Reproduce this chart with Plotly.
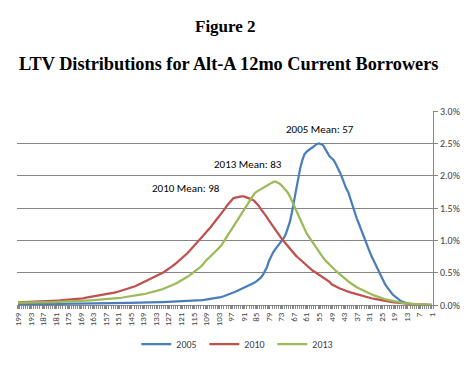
import plotly.graph_objects as go

# LTV categories, left to right on the chart (199 down to 1)
ltv = list(range(199, 0, -1))

# Share of borrowers (%) by LTV, same order as ltv
s2010 = [
    0.040, 0.041, 0.042, 0.043, 0.044, 0.045, 0.046, 0.047, 0.048, 0.050,
    0.051, 0.053, 0.055, 0.057, 0.059, 0.061, 0.063, 0.065, 0.067, 0.069,
    0.071, 0.073, 0.076, 0.079, 0.080, 0.083, 0.086, 0.089, 0.092, 0.095,
    0.100, 0.104, 0.109, 0.114, 0.120, 0.125, 0.131, 0.138, 0.145, 0.155,
    0.158, 0.162, 0.167, 0.172, 0.178, 0.184, 0.190, 0.198, 0.207, 0.217,
    0.226, 0.236, 0.246, 0.256, 0.266, 0.277, 0.290, 0.305, 0.320, 0.336,
    0.352, 0.368, 0.385, 0.400, 0.414, 0.428, 0.442, 0.458, 0.476, 0.495,
    0.515, 0.535, 0.556, 0.580, 0.605, 0.630, 0.656, 0.684, 0.712, 0.740,
    0.770, 0.800, 0.835, 0.870, 0.905, 0.940, 0.975, 1.010, 1.045, 1.080,
    1.12, 1.16, 1.20, 1.24, 1.28, 1.32, 1.36, 1.40, 1.44, 1.49,
    1.54, 1.58, 1.62, 1.65, 1.66, 1.67, 1.67, 1.68, 1.68, 1.67,
    1.66, 1.65, 1.63, 1.61, 1.58, 1.54, 1.49, 1.45, 1.41, 1.36,
    1.31, 1.26, 1.21, 1.16, 1.12, 1.08, 1.03, 0.99, 0.95, 0.92,
    0.88, 0.84, 0.80, 0.76, 0.73, 0.70, 0.67, 0.64, 0.61, 0.58,
    0.56, 0.53, 0.51, 0.49, 0.465, 0.44, 0.42, 0.40, 0.38, 0.36,
    0.32, 0.30, 0.285, 0.27, 0.255, 0.24, 0.228, 0.217, 0.206, 0.195,
    0.185, 0.175, 0.165, 0.155, 0.145, 0.136, 0.128, 0.120, 0.112, 0.104,
    0.097, 0.090, 0.083, 0.077, 0.071, 0.065, 0.059, 0.054, 0.049, 0.044,
    0.040, 0.036, 0.032, 0.028, 0.025, 0.022, 0.019, 0.016, 0.014, 0.012,
    0.010, 0.008, 0.007, 0.005, 0.004, 0.003, 0.002, 0.002, 0.001,
]

s2013 = [
    0.035, 0.035, 0.036, 0.036, 0.037, 0.037, 0.038, 0.038, 0.039, 0.039,
    0.040, 0.040, 0.041, 0.041, 0.042, 0.043, 0.044, 0.045, 0.046, 0.047,
    0.048, 0.049, 0.050, 0.051, 0.052, 0.053, 0.055, 0.057, 0.059, 0.061,
    0.063, 0.065, 0.067, 0.069, 0.071, 0.073, 0.075, 0.077, 0.079, 0.081,
    0.083, 0.086, 0.089, 0.092, 0.095, 0.098, 0.101, 0.104, 0.108, 0.112,
    0.116, 0.120, 0.124, 0.128, 0.133, 0.138, 0.143, 0.148, 0.154, 0.160,
    0.167, 0.174, 0.181, 0.189, 0.197, 0.205, 0.214, 0.223, 0.233, 0.244,
    0.256, 0.268, 0.281, 0.295, 0.310, 0.325, 0.341, 0.358, 0.376, 0.395,
    0.415, 0.436, 0.458, 0.481, 0.505, 0.530, 0.556, 0.583, 0.611, 0.660,
    0.69, 0.72, 0.75, 0.78, 0.81, 0.84, 0.87, 0.91, 0.96, 1.01,
    1.06, 1.11, 1.16, 1.21, 1.26, 1.31, 1.36, 1.41, 1.46, 1.51,
    1.57, 1.63, 1.68, 1.72, 1.75, 1.77, 1.79, 1.81, 1.83, 1.84,
    1.86, 1.88, 1.90, 1.91, 1.90, 1.88, 1.85, 1.81, 1.77, 1.74,
    1.68, 1.61, 1.54, 1.46, 1.38, 1.31, 1.24, 1.17, 1.11, 1.06,
    1.01, 0.96, 0.91, 0.86, 0.81, 0.77, 0.73, 0.69, 0.655, 0.62,
    0.59, 0.56, 0.53, 0.50, 0.47, 0.44, 0.415, 0.39, 0.365, 0.34,
    0.315, 0.295, 0.275, 0.258, 0.241, 0.225, 0.210, 0.195, 0.180, 0.166,
    0.152, 0.139, 0.127, 0.116, 0.105, 0.095, 0.086, 0.078, 0.070, 0.063,
    0.056, 0.050, 0.044, 0.038, 0.033, 0.028, 0.024, 0.020, 0.017, 0.014,
    0.011, 0.009, 0.007, 0.005, 0.004, 0.003, 0.002, 0.001, 0.001,
]

s2005 = [
    0.010, 0.010, 0.010, 0.011, 0.011, 0.011, 0.012, 0.012, 0.012, 0.013,
    0.013, 0.013, 0.014, 0.014, 0.014, 0.015, 0.015, 0.016, 0.016, 0.017,
    0.017, 0.018, 0.018, 0.019, 0.019, 0.020, 0.020, 0.021, 0.021, 0.022,
    0.022, 0.023, 0.023, 0.024, 0.024, 0.025, 0.025, 0.026, 0.026, 0.027,
    0.027, 0.028, 0.028, 0.029, 0.029, 0.030, 0.030, 0.031, 0.031, 0.032,
    0.032, 0.033, 0.033, 0.034, 0.034, 0.035, 0.035, 0.036, 0.036, 0.037,
    0.037, 0.038, 0.039, 0.040, 0.041, 0.042, 0.043, 0.044, 0.045, 0.046,
    0.047, 0.048, 0.049, 0.050, 0.051, 0.052, 0.053, 0.054, 0.055, 0.056,
    0.058, 0.060, 0.062, 0.064, 0.066, 0.068, 0.071, 0.074, 0.077, 0.080,
    0.084, 0.088, 0.092, 0.097, 0.102, 0.108, 0.115, 0.123, 0.132, 0.142,
    0.153, 0.165, 0.178, 0.192, 0.206, 0.220, 0.235, 0.250, 0.265, 0.280,
    0.300, 0.315, 0.330, 0.345, 0.365, 0.390, 0.420, 0.460, 0.510, 0.580,
    0.68, 0.75, 0.81, 0.86, 0.90, 0.94, 0.98, 1.03, 1.09, 1.17,
    1.28, 1.43, 1.61, 1.80, 1.97, 2.12, 2.24, 2.33, 2.37, 2.40,
    2.42, 2.44, 2.47, 2.49, 2.50, 2.49, 2.47, 2.41, 2.35, 2.30,
    2.27, 2.24, 2.18, 2.12, 2.05, 1.97, 1.88, 1.80, 1.74, 1.64,
    1.52, 1.43, 1.34, 1.26, 1.17, 1.08, 1.00, 0.92, 0.84, 0.76,
    0.69, 0.62, 0.55, 0.48, 0.42, 0.36, 0.30, 0.25, 0.20, 0.17,
    0.14, 0.11, 0.085, 0.065, 0.048, 0.035, 0.026, 0.019, 0.014, 0.010,
    0.007, 0.005, 0.004, 0.003, 0.002, 0.002, 0.001, 0.001, 0.000,
]

series_names = ["2005", "2010", "2013"]
series_colors = ["#4A7EBB", "#C0504D", "#9BBB59"]
tick_labels = [str(v) for v in range(199, 0, -6)]

mean_labels = ["2005 Mean: 57", "2013 Mean: 83", "2010 Mean: 98"]

# Page layout: the browser body has an 8px margin, so the figure div starts at (8, 8)
PAGE = 8
VW, VH = 470, 365
PL, PR, PT, PB = 12, 433, 111, 305   # plot area in viewport pixels
W, H = VW - PAGE, VH - PAGE
L, R, T, B = PL - PAGE, VW - PR, PT - PAGE, VH - PB
pw, ph = PR - PL, PB - PT


def px(x):
    return (x - PL) / pw


def py(y):
    return (PB - y) / ph


sans = "Carlito, Lato, 'Liberation Sans', sans-serif"
serif = "'Liberation Serif', 'Times New Roman', serif"

fig = go.Figure()
for name, vals, col in zip(series_names, [s2005, s2010, s2013], series_colors):
    fig.add_trace(go.Scatter(
        x=ltv, y=vals, mode="lines", name=name,
        line=dict(color=col, width=2.25),
    ))

label_font = dict(family=sans, size=11, color="#000000")
for txt, (lx, ly) in zip(mean_labels, [(319, 129), (246, 164), (183, 188)]):
    fig.add_annotation(x=px(lx), y=py(ly), xref="paper", yref="paper", text=txt,
                       showarrow=False, font=label_font,
                       xanchor="center", yanchor="middle")

fig.add_annotation(x=px(223), y=py(26), xref="paper", yref="paper",
                   text="<b>Figure 2</b>", showarrow=False,
                   font=dict(family=serif, size=17, color="#000000"),
                   xanchor="center", yanchor="middle")
fig.add_annotation(x=px(226), y=py(64), xref="paper", yref="paper",
                   text="<b>LTV Distributions for Alt-A 12mo Current Borrowers</b>",
                   showarrow=False, font=dict(family=serif, size=18.3, color="#000000"),
                   xanchor="center", yanchor="middle")

fig.update_layout(
    width=W, height=H,
    margin=dict(l=L, r=R, t=T, b=B, pad=0),
    paper_bgcolor="white", plot_bgcolor="white",
    showlegend=True,
    legend=dict(orientation="h", x=px(236), xanchor="center",
                y=py(344), yanchor="middle",
                font=dict(family=sans, size=10, color="#404040"),
                itemwidth=30, entrywidth=23, entrywidthmode="pixels",
                tracegroupgap=0),
    xaxis=dict(
        range=[199.5, 0.5], tickmode="array",
        tickvals=[int(t) for t in tick_labels], ticktext=tick_labels,
        tickangle=-90, showgrid=False, zeroline=False,
        ticklabeloverflow="allow",
        showline=True, linecolor="#868686", linewidth=1,
        ticks="outside", ticklen=3, tickcolor="#868686",
        minor=dict(tickmode="linear", tick0=0.5, dtick=1, ticks="outside",
                   ticklen=3, tickcolor="#868686", showgrid=False),
        tickfont=dict(family=sans, size=9, color="#404040"),
    ),
    yaxis=dict(
        range=[0, 3.0], side="right", dtick=0.5, tick0=0,
        tickformat=".1f", ticksuffix="%",
        showgrid=True, gridcolor="#868686", gridwidth=1,
        zeroline=False, showline=True, linecolor="#868686", linewidth=1,
        ticks="outside", ticklen=4, tickcolor="#868686",
        tickfont=dict(family=sans, size=10, color="#404040"),
    ),
)

fig.write_html("out.html")
